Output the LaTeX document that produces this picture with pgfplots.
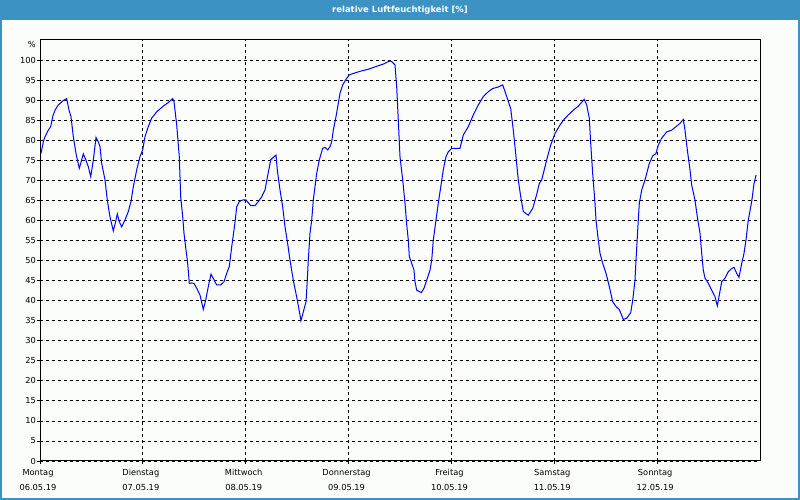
\documentclass[border=0pt]{standalone}
\usepackage{pgfplots}
\pgfplotsset{compat=1.18}
\usepackage{fontspec}
\setmainfont{DejaVu Sans}
\definecolor{barblue}{RGB}{61,146,196}
\definecolor{bgc}{RGB}{251,253,251}
\begin{document}
\begin{tikzpicture}
\useasboundingbox (0bp,0bp) rectangle (800bp,500bp);
\fill[bgc] (0bp,0bp) rectangle (800bp,500bp);
\fill[barblue] (0bp,480bp) rectangle (800bp,500bp);
\draw[barblue, line width=2bp] (1bp,1bp) rectangle (799bp,499bp);
\node[white, font=\fontsize{8.5}{10}\selectfont\bfseries] at (400bp,490bp) {relative Luftfeuchtigkeit [\%]};
\begin{axis}[
  at={(40bp,39bp)}, anchor=south west,
  scale only axis, width=720bp, height=421bp,
  xmin=0, xmax=168, ymin=0, ymax=105,
  axis line style={black, line width=1bp},
  xtick={0,24,48,72,96,120,144},
  xticklabels={{Montag\\06.05.19},{Dienstag\\07.05.19},{Mittwoch\\08.05.19},{Donnerstag\\09.05.19},{Freitag\\10.05.19},{Samstag\\11.05.19},{Sonntag\\12.05.19}},
  ytick={0,5,...,100},
  tick align=outside, major tick length=3bp,
  tick style={black, line width=0.8bp},
  xtick pos=bottom, ytick pos=left,
  grid=major,
  major grid style={black, line width=0.8bp, dash pattern=on 3bp off 3bp},
  /pgf/number format/assume math mode=true,
  tick label style={font=\fontsize{8.3}{15}\selectfont, text=black},
  xticklabel style={align=center, inner sep=0pt, yshift=-5bp, xshift=-2bp},
  yticklabel style={inner sep=0pt, xshift=-1bp},
  clip mode=individual,
]
\node[anchor=east, font=\fontsize{8.3}{10}\selectfont, inner sep=0pt] at (rel axis cs:0,1) [xshift=-4bp, yshift=-4bp] {\%};
\addplot[color={rgb,255:red,0;green,0;blue,255}, line width=1bp, mark=none] coordinates {
(0.23,76.7)(0.78,79.6)(1.17,80.9)(1.94,82.5)(2.5,83.4)(2.96,85.9)(3.5,87.5)(4.27,88.8)(5.44,89.9)(6.23,90.4)
(6.77,87.5)(7.23,85.9)(7.77,80.9)(8.4,76.7)(9.17,73.0)(9.5,74.2)(10.1,76.6)(10.73,75.0)(11.27,73.4)(11.83,70.9)
(12.44,75.0)(13.07,80.7)(13.6,79.6)(14.0,78.4)(14.4,74.2)(15.17,70.1)(15.7,65.1)(16.33,60.9)(17.1,57.4)(17.57,59.3)
(18.04,61.6)(18.5,59.7)(19.06,58.4)(19.83,60.1)(20.6,62.2)(21.23,64.7)(21.77,68.4)(22.56,72.6)(23.33,75.9)(23.96,77.6)
(24.5,80.9)(25.27,83.4)(26.06,85.5)(27.23,87.1)(28.77,88.5)(29.94,89.4)(30.96,90.4)(31.27,89.6)(31.9,83.8)(32.5,75.9)
(32.83,65.9)(33.3,60.9)(33.6,56.8)(34.07,52.6)(34.46,49.3)(34.84,44.3)(35.4,44.4)(35.93,44.3)(36.56,43.1)(37.33,41.4)
(38.1,37.8)(38.66,40.1)(39.27,43.5)(39.9,46.6)(40.6,45.2)(41.23,43.9)(42.16,43.9)(42.93,44.7)(43.56,46.8)(44.17,48.5)
(44.73,53.4)(45.5,59.5)(45.9,63.4)(46.5,64.7)(47.3,65.1)(48.07,65.1)(48.37,64.7)(49.16,63.7)(50.17,63.7)(50.94,64.7)
(51.73,65.9)(52.5,67.6)(53.1,71.0)(53.83,75.1)(54.4,75.7)(55.07,76.3)(55.37,72.6)(56.0,67.6)(56.63,63.4)(57.17,58.4)
(57.9,53.4)(58.33,50.1)(59.1,45.1)(60.04,40.1)(60.9,35.0)(61.44,37.2)(62.07,39.7)(62.37,45.1)(62.6,50.1)(63.0,56.8)
(63.4,60.1)(63.77,65.1)(64.56,71.7)(65.17,75.1)(65.96,78.0)(66.5,78.2)(67.13,77.6)(67.67,78.4)(68.06,79.6)(68.44,82.5)
(69.07,85.9)(69.6,89.2)(70.0,91.7)(70.63,93.8)(71.4,95.2)(72.17,96.3)(73.5,96.8)(75.06,97.3)(76.6,97.7)(78.17,98.3)
(80.1,99.0)(81.67,99.8)(82.06,99.6)(82.83,98.8)(83.23,93.3)(83.6,85.0)(84.0,75.9)(84.63,70.1)(85.17,64.3)(85.56,59.0)
(85.94,55.1)(86.17,51.0)(86.73,49.3)(87.27,47.6)(87.5,44.7)(87.9,42.6)(88.97,42.0)(89.6,43.1)(90.23,45.1)(91.0,47.6)
(91.4,50.1)(91.77,55.1)(92.4,60.1)(92.94,64.3)(93.57,68.8)(94.1,72.6)(94.73,75.9)(95.27,77.1)(96.06,78.0)(98.0,78.0)
(98.77,81.3)(99.94,83.4)(101.1,86.3)(102.27,88.8)(103.44,90.9)(104.6,92.1)(105.63,92.9)(106.7,93.2)(107.96,93.8)(108.9,90.9)
(109.83,87.9)(110.44,82.5)(111.07,75.9)(111.6,70.1)(112.17,65.9)(112.77,62.2)(113.94,61.3)(114.96,63.0)(115.85,66.3)(116.5,69.2)
(117.06,70.1)(118.23,75.1)(119.16,78.8)(120.17,81.7)(121.33,83.8)(122.27,85.2)(123.27,86.3)(124.44,87.5)(125.6,88.5)(127.0,90.2)
(127.56,88.8)(128.17,85.5)(128.5,79.2)(128.96,71.7)(129.5,64.3)(129.73,60.1)(130.27,55.1)(130.67,51.8)(131.3,49.3)(132.07,46.8)
(132.84,43.5)(133.63,39.7)(134.57,38.3)(135.17,37.8)(136.1,35.3)(136.9,35.6)(137.83,37.0)(138.3,40.1)(138.83,45.1)(139.07,50.1)
(139.6,60.1)(139.84,64.3)(140.4,67.6)(141.17,70.1)(142.17,74.2)(142.96,76.1)(143.73,76.7)(144.27,78.8)(145.06,80.5)(146.23,82.1)
(147.4,82.5)(148.4,83.4)(149.33,84.2)(150.1,85.2)(150.5,82.5)(151.04,77.6)(151.67,72.6)(152.06,68.8)(152.83,65.1)(153.37,60.9)
(154.0,56.8)(154.4,51.8)(154.77,47.6)(155.17,45.6)(155.94,44.3)(156.73,42.6)(157.5,41.0)(158.04,38.7)(158.5,41.4)(159.06,44.7)
(159.83,45.6)(160.6,47.2)(161.4,48.0)(161.93,48.3)(162.56,46.8)(163.1,45.8)(163.73,49.3)(164.27,51.8)(164.73,55.1)(165.27,60.1)
(166.06,64.7)(166.6,69.2)(167.07,71.3)
};
\end{axis}
\end{tikzpicture}
\end{document}
